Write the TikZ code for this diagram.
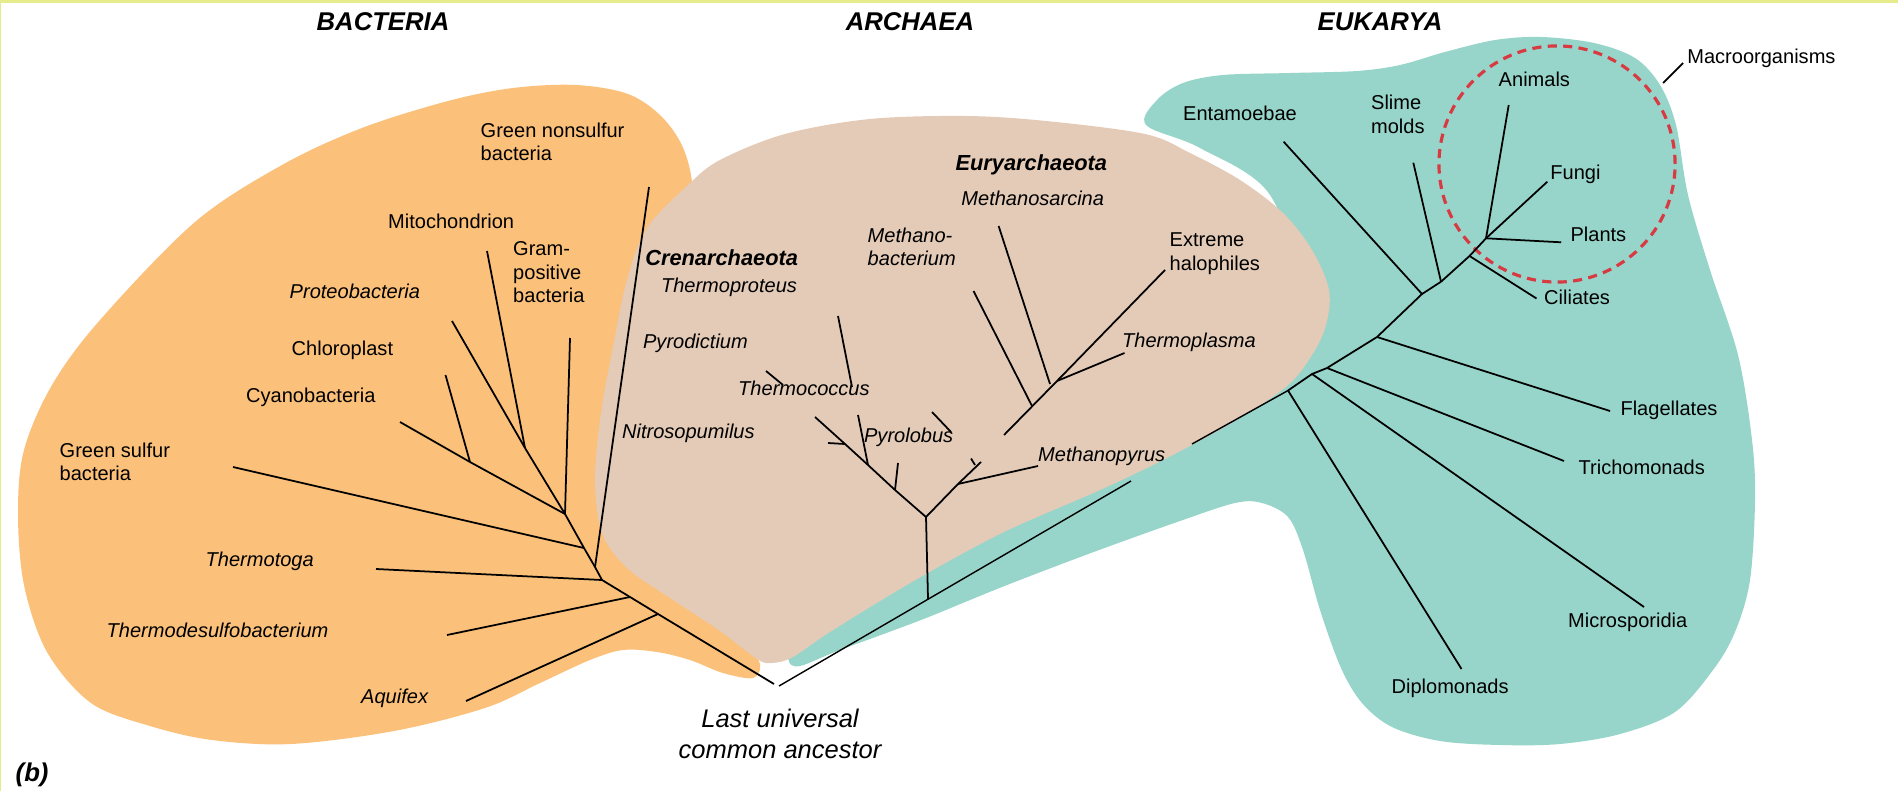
\documentclass[tikz,border=0pt]{standalone}
\usepackage{fontspec}
\setmainfont{Liberation Sans}
\usepackage{tikz}
\definecolor{bactcol}{HTML}{FBC07A}
\definecolor{archcol}{HTML}{E3CBB7}
\definecolor{eukcol}{HTML}{97D5CB}
\definecolor{macrocol}{HTML}{D83A42}
\definecolor{framecol}{HTML}{E6EB8C}
\tikzset{lbl/.style={inner sep=0pt,anchor=north west,align=left,font=\fontsize{5.7pt}{6.69pt}\selectfont},
ilbl/.style={lbl,font=\fontsize{5.7pt}{6.69pt}\selectfont\itshape},
blbl/.style={lbl,font=\fontsize{6.2pt}{7pt}\selectfont\bfseries\itshape},
ttl/.style={inner sep=0pt,font=\fontsize{7.3pt}{8pt}\selectfont\bfseries\itshape},
tl/.style={line width=0.5pt},
macro/.style={draw=macrocol,line width=0.9pt,dash pattern=on 2.6pt off 1.8pt}}

\begin{document}
\begin{tikzpicture}[x=0.01cm,y=-0.01cm]
    \useasboundingbox (0,0) rectangle (1898,791);
    \fill[framecol] (0,0) rectangle (1898,3.5);
    \fill[framecol] (0,0) rectangle (1.5,791);
    \fill[bactcol] plot[smooth cycle,tension=0.55] coordinates {(576,85) (628,94) (662,117) (684,150) (693,195) (688,270) (665,360) (650,450) (650,535) (690,600) (745,645) (760,664) (753,678) (723,673) (690,660) (657,652) (623,650) (590,660) (540,683) (485,708) (394,731) (291,744) (212,740) (150,726) (91,703) (47,652) (24,585) (18,513) (24,450) (52,385) (100,320) (195,222) (282,165) (362,128) (448,101) (513,88)};
    \fill[eukcol] plot[smooth cycle,tension=0.55] coordinates {(1146,125) (1157,100) (1183,83) (1223,75) (1290,73) (1357,71) (1400,65) (1445,52) (1495,40) (1541,37) (1594,43) (1635,58) (1660,85) (1676,125) (1688,195) (1710,270) (1738,355) (1752,440) (1755,500) (1750,580) (1735,632) (1713,670) (1675,712) (1620,734) (1560,744) (1500,745) (1440,741) (1392,727) (1362,703) (1341,668) (1320,610) (1303,550) (1288,517) (1262,503) (1235,503) (1180,521) (1091,553) (1002,587) (921,620) (840,650) (800,666) (789,661) (800,648) (900,578) (1100,478) (1250,385) (1300,300) (1270,195) (1200,148)};
    \fill[archcol] plot[smooth cycle,tension=0.55] coordinates {(966,116) (1046,121) (1145,134) (1190,153) (1240,180) (1283,213) (1312,250) (1329,290) (1326,325) (1312,355) (1287,386) (1233,422) (1167,458) (1100,490) (1002,533) (912,582) (830,632) (793,657) (772,663) (757,659) (720,631) (670,598) (627,568) (602,533) (595,480) (601,413) (613,347) (627,280) (647,228) (688,185) (720,160) (785,134) (870,119)};
    \draw[macro] (1557,164) circle[radius=1.18cm];

    \node[ttl] (bact) at (383,22) {BACTERIA};
    \node[ttl] (arch) at (910,22) {ARCHAEA};
    \node[ttl] (euk) at (1380,22) {EUKARYA};

    \coordinate (lucaL) at (774,684);
    \coordinate (lucaR) at (779,686);
    \coordinate (b1) at (658,614);
    \coordinate (b2) at (630,597);
    \coordinate (b3) at (602,580);
    \coordinate (b4) at (595,567);
    \coordinate (b5) at (584,548);
    \coordinate (b6) at (565,514);
    \coordinate (b7) at (525,448);
    \coordinate (b8) at (470,462);
    \coordinate (aqu) at (466,701);
    \coordinate (tds) at (447,635);
    \coordinate (tmt) at (376,569);
    \coordinate (gns) at (649,187);
    \coordinate (gsb) at (233,467);
    \coordinate (gpb) at (570,338);
    \coordinate (mit) at (487,251);
    \coordinate (pro) at (452,321);
    \coordinate (chl) at (445.5,375);
    \coordinate (cya) at (400,422);
    \draw[tl] (lucaL) -- (b1) -- (b2) -- (b3) -- (b4) -- (b5) -- (b6);
    \draw[tl] (b1) edge (aqu) (b2) edge (tds) (b3) edge (tmt) (b4) edge (gns) (b5) edge (gsb)
    (b6) edge (gpb) edge (b7) edge (b8)
    (b7) edge (mit) edge (pro)
    (b8) edge (chl) edge (cya)
    ;

    \coordinate (a0) at (928,599);
    \coordinate (a1) at (926,517);
    \coordinate (a2) at (895,490);
    \coordinate (a3) at (868,465);
    \coordinate (a4) at (845,444);
    \coordinate (a5) at (815,417);
    \coordinate (a6) at (958,484);
    \coordinate (a7) at (981,462);
    \coordinate (a8) at (975,465);
    \coordinate (a2t) at (898,463);
    \coordinate (a3t) at (858,415);
    \coordinate (a4t) at (828,443);
    \coordinate (a8t) at (971,458.5);
    \coordinate (mpy) at (1038,466);
    \coordinate (tc1) at (838,316);
    \coordinate (tc2) at (852,387);
    \coordinate (tc3) at (766,371);
    \coordinate (tc4) at (783,385);
    \coordinate (py1) at (932,412);
    \coordinate (py2) at (951,432);
    \coordinate (e0) at (1004,435);
    \coordinate (e1) at (1032,406);
    \coordinate (e2) at (1050,384);
    \coordinate (e3) at (1057,381);
    \coordinate (mba) at (973.5,291);
    \coordinate (msa) at (998.6,226);
    \coordinate (tpl) at (1124.5,353);
    \coordinate (ehl) at (1165,270);
    \draw[tl] (a0) -- (a1) -- (a2) -- (a3) -- (a4) -- (a5) (a1) -- (a6) -- (a7);
    \draw[tl] (a2) edge (a2t) (a3) edge (a3t) (a4) edge (a4t) (a6) edge (mpy) (a8) edge (a8t)
    (tc1) edge (tc2) (tc3) edge (tc4) (py1) edge (py2)
    (e0) edge (e3) (e1) edge (mba) (e2) edge (msa) (e3) edge (tpl) edge (ehl)
    ;

    \coordinate (k0) at (1131,481);
    \coordinate (kg) at (1192,444);
    \coordinate (k1) at (1288,390.5);
    \coordinate (k2) at (1312,374);
    \coordinate (k3) at (1327,368);
    \coordinate (k4) at (1377,337);
    \coordinate (k5) at (1422,294);
    \coordinate (k6) at (1441,281.7);
    \coordinate (k7) at (1469.5,256);
    \coordinate (k8) at (1486,238.3);
    \coordinate (dip) at (1461.5,669);
    \coordinate (mic) at (1644,607);
    \coordinate (tri) at (1564,461);
    \coordinate (fla) at (1610,411);
    \coordinate (ent) at (1283.6,141.7);
    \coordinate (sli) at (1413.3,162.7);
    \coordinate (cil) at (1536.5,298.5);
    \coordinate (ani) at (1508.7,105);
    \coordinate (fun) at (1547.3,181.7);
    \coordinate (pla) at (1561.2,242.3);
    \coordinate (mo1) at (1663,83);
    \coordinate (mo2) at (1683,63);
    \draw[line width=0.4pt] (lucaR) -- (k0) (kg) -- (k1);
    \draw[tl] (k1) -- (k2) -- (k3) -- (k4) -- (k5) -- (k6) -- (k7) -- (k8);
    \draw[tl] (k1) edge (dip) (k2) edge (mic) (k3) edge (tri) (k4) edge (fla) (k5) edge (ent)
    (k6) edge (sli) (k7) edge (cil) (k8) edge (ani) edge (fun) edge (pla)
    (mo1) edge (mo2)
    ;

    \node[lbl] (gnsl) at (480,122) {Green nonsulfur\\bacteria};
    \node[lbl] (mitl) at (387.5,213.5) {Mitochondrion};
    \node[lbl] (gpbl) at (512.5,241) {Gram-\\positive\\bacteria};
    \node[ilbl] (prol) at (289,283.5) {Proteobacteria};
    \node[lbl] (chll) at (291,340.5) {Chloroplast};
    \node[lbl] (cyal) at (245.5,387) {Cyanobacteria};
    \node[lbl] (gsbl) at (59,442) {Green sulfur\\bacteria};
    \node[ilbl] (tmtl) at (205,551) {Thermotoga};
    \node[ilbl] (tdsl) at (106,622) {Thermodesulfobacterium};
    \node[ilbl] (aqul) at (360.5,688.5) {Aquifex};

    \node[blbl] (cren) at (644.6,248.5) {Crenarchaeota};
    \node[ilbl] (tprl) at (660.3,277) {Thermoproteus};
    \node[ilbl] (pdil) at (642.4,333.5) {Pyrodictium};
    \node[ilbl] (tcol) at (737.5,380.3) {Thermococcus};
    \node[ilbl] (nitl) at (621.4,423) {Nitrosopumilus};
    \node[ilbl] (pyrl) at (863.4,427) {Pyrolobus};
    \node[blbl] (eury) at (954.9,154.2) {Euryarchaeota};
    \node[ilbl] (msal) at (960.7,190.2) {Methanosarcina};
    \node[ilbl] (mbal) at (867,227) {Methano-\\bacterium};
    \node[lbl] (ehll) at (1169,232) {Extreme\\halophiles};
    \node[ilbl] (tpll) at (1121.4,332) {Thermoplasma};
    \node[ilbl] (mpyl) at (1037.5,446.3) {Methanopyrus};

    \node[lbl] (entl) at (1182.5,105.5) {Entamoebae};
    \node[lbl] (slil) at (1370.4,94.3) {Slime\\molds};
    \node[lbl] (anil) at (1498,71) {Animals};
    \node[lbl] (funl) at (1549.7,164.3) {Fungi};
    \node[lbl] (plal) at (1569.8,226.3) {Plants};
    \node[lbl] (cill) at (1543.5,289.5) {Ciliates};
    \node[lbl] (flal) at (1619.8,400.3) {Flagellates};
    \node[lbl] (tril) at (1577.9,459.5) {Trichomonads};
    \node[lbl] (micl) at (1567.4,612.5) {Microsporidia};
    \node[lbl] (dipl) at (1390.9,678.5) {Diplomonads};
    \node[lbl] (macl) at (1686.6,48.3) {Macroorganisms};

    \node[inner sep=0pt,anchor=north,align=center,font=\fontsize{7.25pt}{8.8pt}\selectfont\itshape] (luca) at (780,708) {Last universal\\common ancestor};
    \node[ttl,anchor=west] (fig) at (15,775) {(b)};
\end{tikzpicture}
\end{document}
